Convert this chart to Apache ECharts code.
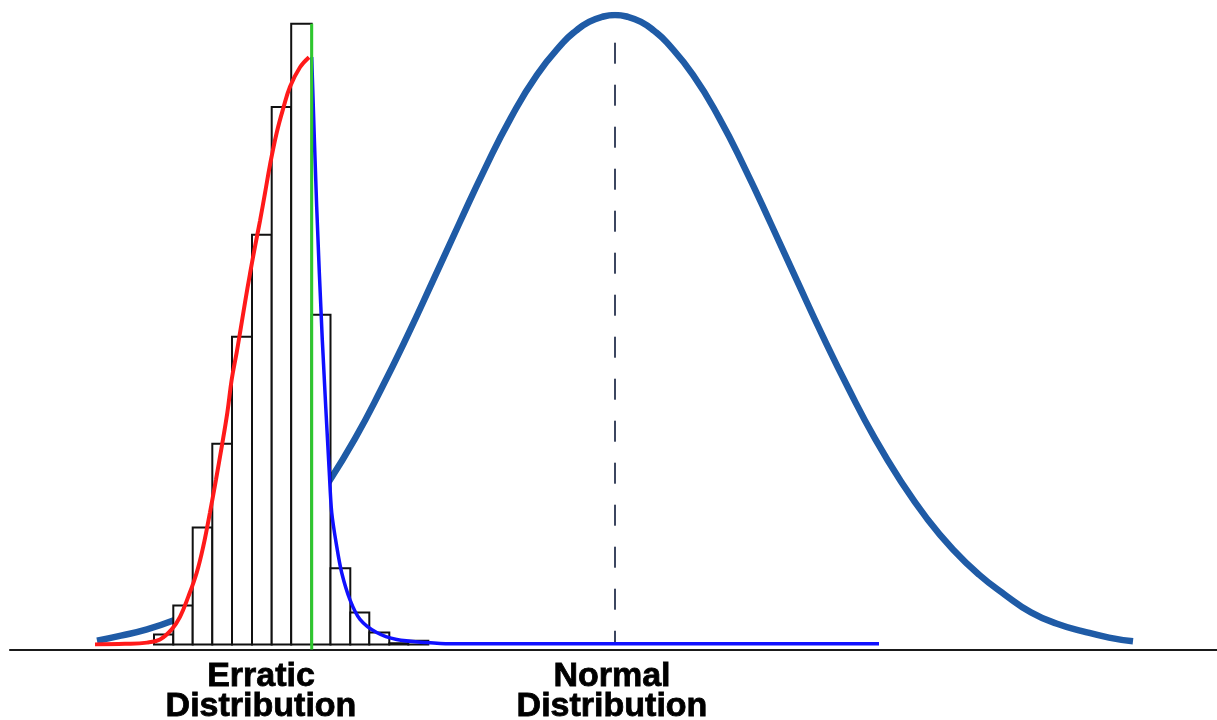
<!DOCTYPE html>
<html>
<head>
<meta charset="utf-8">
<script src="https://cdn.jsdelivr.net/npm/echarts@6/dist/echarts.min.js"></script>
<style>
  html, body { margin: 0; padding: 0; background: #ffffff; }
  #chart { width: 1217px; height: 720px; }
</style>
</head>
<body>
<div id="chart"></div>
<script>
// ---- Data (x in arbitrary position units, y in % of normal peak) ----
const normalX = [9.7, 12.1, 14.7, 17.3, 19.9, 22.5, 25.1, 27.7, 30.3, 32.9, 35.5, 38.1, 40.7, 43.3, 45.9, 48.5, 51.1, 53.7, 56.3, 57.6, 58.9, 60.2, 61.5, 62.8, 64.1, 65.4, 66.7, 69.3, 71.9, 74.5, 77.1, 79.7, 82.3, 84.9, 87.5, 90.1, 92.7, 95.3, 97.9, 100.5, 103.1, 105.7, 108.3, 110.9, 113.3];
const normalY = [0.6, 1.4, 2.4, 3.8, 5.6, 7.9, 11.1, 15.1, 20.0, 25.9, 32.7, 40.5, 48.9, 57.8, 66.8, 75.6, 83.7, 90.5, 95.6, 97.5, 98.9, 99.7, 100, 99.7, 98.9, 97.5, 95.6, 90.5, 83.7, 75.6, 66.8, 57.8, 48.9, 40.5, 32.7, 25.9, 20.0, 15.1, 11.1, 7.9, 5.1, 3.3, 2.1, 1.1, 0.5];

const binEdges = [15.4, 17.33, 19.27, 21.23, 23.2, 25.2, 27.17, 29.12, 31.17, 33.05, 35.03, 36.93, 38.93, 40.83, 42.83];
const binCounts = [1.6, 6.2, 18.6, 31.9, 48.9, 65.1, 85.4, 98.6, 52.4, 12.1, 5.1, 1.9, 0.2, 0.6];

const redX = [9.5, 12.5, 14.7, 16.0, 17.17, 18.0, 18.83, 19.67, 20.33, 21.0, 21.6, 22.17, 22.73, 23.17, 23.67, 24.0, 24.5, 25.0, 25.5, 26.0, 26.5, 27.0, 27.67, 28.33, 29.0, 30.0, 30.9];
const redY = [0, 0.1, 0.3, 0.8, 2.4, 4.4, 7.6, 11.4, 15.6, 21.0, 26.2, 31.4, 36.8, 42.1, 46.4, 49.5, 54.3, 58.9, 63.2, 67.3, 71.7, 76.2, 81.3, 85.2, 88.6, 91.7, 93.3];

const blueX = [31.17, 31.67, 32.23, 32.93, 33.17, 33.67, 34.17, 35.0, 36.0, 37.67, 39.67, 42.67, 45.0, 87.9];
const blueY = [93.3, 69.5, 48.4, 27.3, 21.0, 15.6, 11.4, 7.1, 4.0, 1.9, 0.8, 0.3, 0.1, 0.1];

const modeX = [31.17, 31.17];
const modeY = [-0.8, 98.6];

const meanX = [61.5, 61.5];
const meanY = [95.6, 0];

const labelTexts = ['Erratic\nDistribution', 'Normal\nDistribution'];
const labelX = [26.1, 61.2];

const zip = (xs, ys) => xs.map((x, i) => [x, ys[i]]);

const chart = echarts.init(document.getElementById('chart'), null, { renderer: 'canvas' });
chart.setOption({
  animation: false,
  backgroundColor: '#ffffff',
  grid: { left: 10, right: 0, top: 15, bottom: 75.5 },
  xAxis: {
    type: 'value', min: 1, max: 121.7, offset: 5,
    axisLine: { show: true, onZero: false, lineStyle: { color: '#1a1a1a', width: 2.2 } },
    axisTick: { show: false }, axisLabel: { show: false }, splitLine: { show: false }
  },
  yAxis: { type: 'value', min: 0, max: 100, show: false, splitLine: { show: false } },
  series: [
    {
      name: 'mean', type: 'line', data: zip(meanX, meanY), symbol: 'none', z: 1, clip: false,
      lineStyle: { color: '#3c4660', width: 2, type: [21, 21] }
    },
    {
      name: 'normal', type: 'line', data: zip(normalX, normalY), symbol: 'none', smooth: true, z: 2,
      lineStyle: { color: '#1f5ba6', width: 6.5, cap: 'butt' }
    },
    {
      name: 'histogram', type: 'custom', z: 3,
      data: binCounts.map((v, i) => [binEdges[i], binEdges[i + 1], v]),
      encode: { x: [0, 1], y: 2 },
      renderItem: function (params, api) {
        const p0 = api.coord([api.value(0), 0]);
        const p1 = api.coord([api.value(1), api.value(2)]);
        return {
          type: 'rect',
          shape: { x: p0[0], y: p1[1], width: p1[0] - p0[0], height: p0[1] - p1[1] },
          style: { fill: '#ffffff', stroke: '#111111', lineWidth: 2 }
        };
      }
    },
    {
      name: 'rising', type: 'line', data: zip(redX, redY), symbol: 'none', smooth: 0.4, z: 4,
      lineStyle: { color: '#ff1a1a', width: 4 }
    },
    {
      name: 'falling', type: 'line', data: zip(blueX, blueY), symbol: 'none', smooth: 0.3, z: 4,
      lineStyle: { color: '#1010ff', width: 3.5 }
    },
    {
      name: 'mode', type: 'line', data: zip(modeX, modeY), symbol: 'none', z: 5, clip: false,
      lineStyle: { color: '#2ec82e', width: 3 }
    },
    {
      name: 'labels', type: 'scatter', symbolSize: 0, z: 6, clip: false, silent: true,
      itemStyle: { opacity: 1, color: '#000000' },
      data: labelX.map((x, i) => ({ value: [x, 0], name: labelTexts[i] })),
      label: {
        show: true, position: 'inside', offset: [0, 47],
        formatter: p => p.name,
        fontFamily: 'Liberation Sans, Arial, sans-serif', fontWeight: 'bold',
        fontSize: 34, lineHeight: 30, color: '#000000', align: 'center',
        textBorderColor: '#000000', textBorderWidth: 0.8, opacity: 1
      }
    }
  ]
});
</script>
</body>
</html>
